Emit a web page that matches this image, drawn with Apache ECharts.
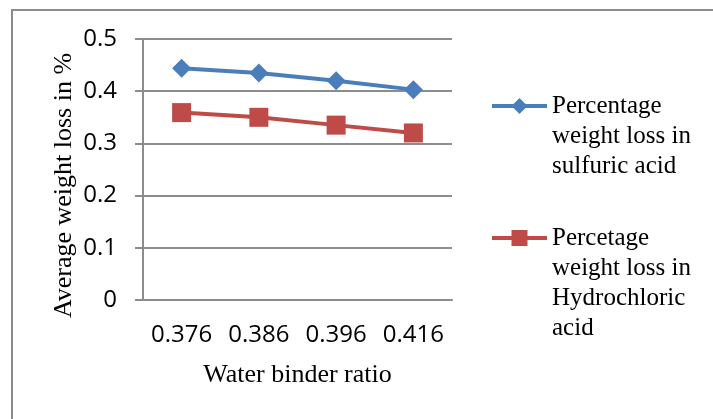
<!DOCTYPE html>
<html>
<head>
<meta charset="utf-8">
<script src="https://cdn.jsdelivr.net/npm/echarts@6/dist/echarts.min.js"></script>
<style>
html,body{margin:0;padding:0;background:#fff;}
#chart{width:713px;height:419px;}
</style>
</head>
<body>
<div id="chart"></div>
<script>
const categories = ['0.376', '0.386', '0.396', '0.416'];
const sulfuric = [0.444, 0.435, 0.420, 0.403];
const hydrochloric = [0.359, 0.350, 0.335, 0.320];
const sulfuricName = 'Percentage\nweight loss in\nsulfuric acid';
const hydroName = 'Percetage\nweight loss in\nHydrochloric\nacid';
const yTicks = {min: 0, max: 0.5, interval: 0.1};

const chart = echarts.init(document.getElementById('chart'), null, {renderer: 'canvas'});
const gray = '#8c8c8c';
const serif = '"Liberation Serif", "Times New Roman", serif';
const sans = '"Open Sans", sans-serif';
const lh = 30;
const pad = (n) => '\n'.repeat(n);

chart.setOption({
  animation: false,
  backgroundColor: '#fff',
  graphic: [{
    type: 'rect', silent: true,
    shape: {x: 12, y: 10, width: 760, height: 520},
    style: {fill: 'none', stroke: gray, lineWidth: 2}
  }],
  grid: {left: 143, right: 261, top: 39, bottom: 119, containLabel: false},
  xAxis: {
    type: 'category',
    data: categories,
    boundaryGap: true,
    name: 'Water binder ratio',
    nameLocation: 'middle',
    nameGap: 62,
    nameTextStyle: {fontFamily: serif, fontSize: 26, color: '#000'},
    axisLine: {lineStyle: {color: gray, width: 2}},
    axisTick: {show: false},
    axisLabel: {interval: 0, hideOverlap: false, margin: 23, fontFamily: sans, fontSize: 24, color: '#000'},
    splitLine: {show: false}
  },
  yAxis: {
    type: 'value',
    min: yTicks.min, max: yTicks.max, interval: yTicks.interval,
    name: 'Average weight loss in %',
    nameLocation: 'middle',
    nameGap: 66,
    nameTextStyle: {fontFamily: serif, fontSize: 26, color: '#000', padding: [0, 32, 0, 0]},
    axisLine: {show: true, lineStyle: {color: gray, width: 2}},
    axisTick: {show: true, length: 8, lineStyle: {color: gray, width: 2}},
    axisLabel: {margin: 26, fontFamily: sans, fontSize: 24, color: '#000'},
    splitLine: {show: true, lineStyle: {color: gray, width: 2}}
  },
  legend: [{
    data: [sulfuricName],
    orient: 'vertical',
    left: 490, top: 106 - (lh * 5) / 2,
    padding: 0,
    itemWidth: 55, itemHeight: 20,
    formatter: (n) => pad(2) + n,
    lineStyle: {width: 4},
    textStyle: {fontFamily: serif, fontSize: 25, color: '#000', lineHeight: lh}
  }, {
    data: [hydroName],
    orient: 'vertical',
    left: 490, top: 238 - (lh * 7) / 2,
    padding: 0,
    itemWidth: 55, itemHeight: 20,
    formatter: (n) => pad(3) + n,
    lineStyle: {width: 4},
    textStyle: {fontFamily: serif, fontSize: 25, color: '#000', lineHeight: lh}
  }],
  series: [{
    name: sulfuricName,
    type: 'line',
    data: sulfuric,
    symbol: 'diamond',
    symbolSize: 19,
    color: '#4A7EBB',
    lineStyle: {width: 4, color: '#4A7EBB'},
    itemStyle: {color: '#4A7EBB'}
  }, {
    name: hydroName,
    type: 'line',
    data: hydrochloric,
    symbol: 'rect',
    symbolSize: 19,
    color: '#BE4B48',
    lineStyle: {width: 4, color: '#BE4B48'},
    itemStyle: {color: '#BE4B48'}
  }]
});
</script>
</body>
</html>
